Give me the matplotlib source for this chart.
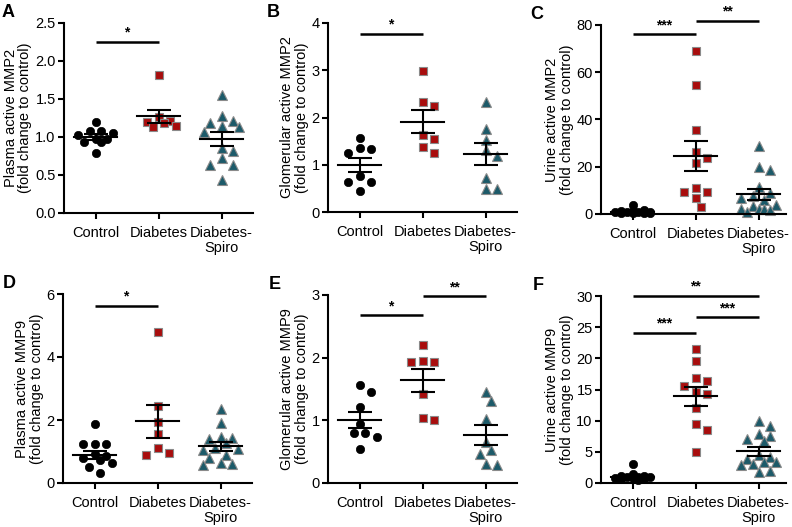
"""
Active MMP2 / MMP9 in control, diabetes and diabetes + spironolactone groups.
Dot plots with mean +/- SEM and significance bars.
"""

import numpy as np
import matplotlib.pyplot as plt

plt.rcParams['font.family'] = ['Liberation Sans', 'DejaVu Sans']

groups = ["Control", "Diabetes", "Diabetes-\nSpiro"]

# panel A - plasma MMP2
a_control = [1.20, 1.08, 1.08, 1.05, 1.02, 0.98, 0.97, 0.94, 0.93, 0.79]
a_diabetes = [1.82, 1.26, 1.21, 1.20, 1.18, 1.14, 1.13]
a_spiro = [1.55, 1.27, 1.21, 1.18, 1.13, 1.15, 1.07, 0.86, 0.81, 0.72, 0.63, 0.63, 0.43]
a_mean = [1.00, 1.27, 0.97]
a_sem = [0.04, 0.09, 0.09]

# panel B - glomerular MMP2
b_control = [1.57, 1.35, 1.33, 1.24, 0.76, 0.64, 0.64, 0.44]
b_diabetes = [2.99, 2.32, 2.25, 1.63, 1.54, 1.38, 1.24]
b_spiro = [2.32, 1.76, 1.53, 1.31, 1.18, 0.72, 0.48, 0.48]
b_mean = [1.00, 1.91, 1.23]
b_sem = [0.15, 0.24, 0.23]

# panel C - urine MMP2
c_control = [3.9, 1.8, 1.4, 1.2, 1.0, 0.9, 0.8, 0.7, 0.6, 0.5, 0.4, 0.3]
c_diabetes = [69.1, 54.6, 35.5, 26.4, 23.8, 21.7, 9.4, 9.2, 11.1, 6.6, 3.0]
c_spiro = [28.6, 20.0, 18.8, 11.6, 9.0, 7.8, 6.9, 5.9, 3.8, 3.2, 2.1, 2.1, 2.1, 1.6, 0.7]
c_mean = [1.0, 24.5, 8.3]
c_sem = [0.3, 6.3, 2.2]

# panel D - plasma MMP9
d_control = [1.88, 1.25, 1.25, 1.23, 0.92, 0.85, 0.78, 0.72, 0.65, 0.52, 0.31]
d_diabetes = [4.79, 2.45, 1.94, 1.54, 1.12, 0.89, 0.94]
d_spiro = [2.35, 1.89, 1.45, 1.40, 1.42, 1.28, 1.10, 1.08, 1.05, 0.90, 0.80, 0.62, 0.58, 0.60]
d_mean = [0.90, 1.96, 1.17]
d_sem = [0.13, 0.52, 0.14]

# panel E - glomerular MMP9
e_control = [1.56, 1.46, 1.22, 0.94, 0.80, 0.80, 0.74, 0.54]
e_diabetes = [2.20, 1.95, 1.93, 1.93, 1.42, 1.01, 1.04]
e_spiro = [1.45, 1.31, 1.02, 0.65, 0.52, 0.47, 0.28, 0.31]
e_mean = [1.00, 1.64, 0.76]
e_sem = [0.13, 0.18, 0.16]

# panel F - urine MMP9
f_control = [3.0, 1.4, 1.2, 1.1, 1.0, 0.9, 0.9, 0.8, 0.8, 0.7, 0.6, 0.5]
f_diabetes = [21.5, 19.6, 16.8, 15.6, 16.3, 14.6, 14.2, 12.0, 9.4, 8.5, 4.9]
f_spiro = [9.9, 9.2, 7.9, 7.5, 7.0, 6.8, 4.5, 4.2, 3.8, 3.4, 3.4, 3.0, 2.9, 2.0, 1.8]
f_mean = [1.0, 13.9, 5.1]
f_sem = [0.2, 1.5, 0.7]

# significance bars: (from group, to group, height, label)
a_sig = [(0, 1, 2.25, "*")]
b_sig = [(0, 1, 3.77, "*")]
c_sig = [(0, 1, 76.0, "***"), (1, 2, 81.8, "**")]
d_sig = [(0, 1, 5.63, "*")]
e_sig = [(0, 1, 2.68, "*"), (1, 2, 2.98, "**")]
f_sig = [(0, 1, 24.1, "***"), (1, 2, 26.6, "***"), (0, 2, 30.0, "**")]

panels = [
    ("A", [a_control, a_diabetes, a_spiro], a_mean, a_sem, a_sig,
     "Plasma active MMP2", np.arange(0, 2.51, 0.5), "{:.1f}"),
    ("B", [b_control, b_diabetes, b_spiro], b_mean, b_sem, b_sig,
     "Glomerular active MMP2", np.arange(0, 4.1, 1), "{:.0f}"),
    ("C", [c_control, c_diabetes, c_spiro], c_mean, c_sem, c_sig,
     "Urine active MMP2", np.arange(0, 81, 20), "{:.0f}"),
    ("D", [d_control, d_diabetes, d_spiro], d_mean, d_sem, d_sig,
     "Plasma active MMP9", np.arange(0, 6.1, 2), "{:.0f}"),
    ("E", [e_control, e_diabetes, e_spiro], e_mean, e_sem, e_sig,
     "Glomerular active MMP9", np.arange(0, 3.1, 1), "{:.0f}"),
    ("F", [f_control, f_diabetes, f_spiro], f_mean, f_sem, f_sig,
     "Urine active MMP9", np.arange(0, 31, 5), "{:.0f}"),
]

# axes boxes in pixels: left, right, top, bottom, and panel letter x
boxes = [(64, 253, 23, 213, 2), (328, 517, 23, 212, 267), (601, 786, 25, 214, 530),
         (63, 252, 294, 483, 3), (328, 517, 295, 483, 269), (601, 786, 296, 483, 533)]

markers = [
    dict(marker="o", color="black", mec="black", mew=0.5, ms=6.0),
    dict(marker="s", color="#a80d0d", mec="#8a8a8a", mew=0.8, ms=6.0),
    dict(marker="^", color="#1c5a69", mec="#8a8a8a", mew=0.8, ms=6.5),
]

W, H = 792, 527
fig = plt.figure(figsize=(W / 100, H / 100), dpi=100)


def swarm(vals, center, xpx, ypx, d=9.5, step=5.8, max_off=22):
    # simple beeswarm in pixel space
    xs = np.zeros(len(vals))
    placed = []
    steps = [0]
    for k in range(1, 8):
        steps += [k, -k]
    for i in np.argsort(vals)[::-1]:
        y = vals[i] * ypx
        best, best_gap = 0, -1
        for k in steps:
            off = k * step
            if abs(off) > max_off:
                continue
            gap = min([np.hypot(off - po, y - py) for po, py in placed] + [1e9])
            if gap >= d:
                best = off
                break
            if gap > best_gap:
                best, best_gap = off, gap
        placed.append((best, y))
        xs[i] = center + best / xpx
    return xs


for (label, data, means, sems, sigs, ylab, yticks, fmt), (l, r, t, b, lx) in zip(panels, boxes):
    ax = fig.add_axes([l / W, 1 - b / H, (r - l) / W, (b - t) / H])
    xmax = (r - l) / 63.0 - 0.5
    ymax = yticks[-1]
    ax.set_xlim(-0.5, xmax)
    ax.set_ylim(0, ymax)
    xpx = 63.0
    ypx = (b - t) / ymax

    for g, vals in enumerate(data):
        vals = np.array(vals)
        xs = swarm(vals, g, xpx, ypx)
        ax.plot(xs, vals, ls="none", zorder=2, clip_on=False, **markers[g])
        # mean line and SEM
        ax.plot([g - 0.34, g + 0.34], [means[g], means[g]], color="black", lw=1.5, zorder=3)
        ax.errorbar(g, means[g], yerr=sems[g], color="black", lw=1.5, capsize=8.5,
                    capthick=1.5, zorder=3)

    for g1, g2, h, star in sigs:
        ax.plot([g1, g2], [h, h], color="black", lw=1.8, clip_on=False,
                solid_capstyle="butt")
        ax.annotate(star, ((g1 + g2) / 2, h), xytext=(0, 1.5), textcoords="offset points",
                    ha="center", va="bottom", fontsize=10, fontweight="bold",
                    annotation_clip=False)

    ax.spines["top"].set_visible(False)
    ax.spines["right"].set_visible(False)
    for s in ["left", "bottom"]:
        ax.spines[s].set_linewidth(1.5)
    ax.set_xticks(range(3))
    ax.set_xticklabels(groups, fontsize=10.5, linespacing=1.1)
    ax.set_yticks(yticks)
    ax.set_yticklabels([fmt.format(v) for v in yticks], fontsize=10.5)
    ax.tick_params(width=1.5, length=4.5, pad=1.5)
    ax.tick_params(axis="x", pad=5)
    ax.set_ylabel(ylab + "\n(fold change to control)", fontsize=10.5, labelpad=2,
                  linespacing=1.05)
    fig.text(lx / W, 1 - (t - 19) / H, label, fontsize=13, fontweight="bold",
             ha="left", va="top")

fig.savefig("out.png", dpi=100)
